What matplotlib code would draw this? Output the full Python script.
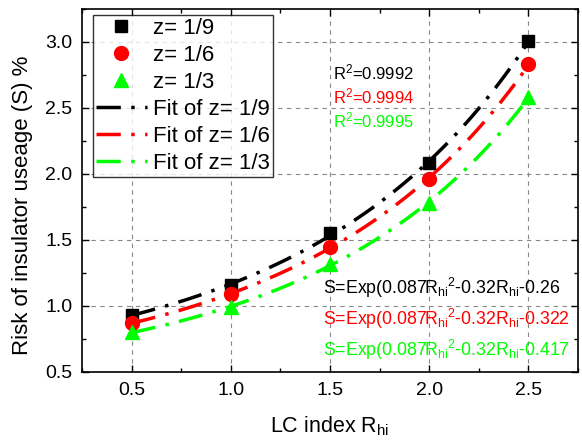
import numpy as np
import matplotlib
matplotlib.use("Agg")
import matplotlib.pyplot as plt
from matplotlib.ticker import MultipleLocator

plt.rcParams['font.family'] = ['Liberation Sans', 'DejaVu Sans']
plt.rcParams['mathtext.fontset'] = 'custom'
plt.rcParams['mathtext.rm'] = 'Liberation Sans'
plt.rcParams['mathtext.it'] = 'Liberation Sans'

x = [0.5, 1.0, 1.5, 2.0, 2.5]
s_19 = [0.93, 1.16, 1.55, 2.08, 3.01]
s_16 = [0.87, 1.09, 1.45, 1.96, 2.83]
s_13 = [0.80, 0.99, 1.32, 1.78, 2.58]
series = [("z= 1/9", s_19, "black", "s"),
          ("z= 1/6", s_16, "#FF0000", "o"),
          ("z= 1/3", s_13, "#00FF00", "^")]
r2_labels = ["0.9992", "0.9994", "0.9995"]
intercepts = ["-0.26", "-0.322", "-0.417"]

fig = plt.figure(figsize=(5.82, 4.42), dpi=100)
ax = fig.add_axes([82/582, 1-372/442, (578-82)/582, (372-9)/442])

xf = np.linspace(min(x), max(x), 100)
handles_pts = []
handles_fit = []
for label, y, c, m in series:
    coef = np.polyfit(x, np.log(y), 2)
    yf = np.exp(np.polyval(coef, xf))
    lf, = ax.plot(xf, yf, color=c, lw=2.5, dashes=(7, 3, 1, 3), label="Fit of " + label, zorder=2)
    ms = 9 if m == "s" else 10
    hp, = ax.plot(x, y, linestyle='none', marker=m, color=c, markersize=ms, label=label, zorder=3)
    handles_pts.append(hp)
    handles_fit.append(lf)

ax.set_xlim(0.25, 2.75)
ax.set_ylim(0.5, 3.25)
ax.xaxis.set_major_locator(MultipleLocator(0.5))
ax.xaxis.set_minor_locator(MultipleLocator(0.25))
ax.yaxis.set_major_locator(MultipleLocator(0.5))
ax.yaxis.set_minor_locator(MultipleLocator(0.25))
ax.tick_params(which='both', direction='in', top=True, right=True, labelsize=14)
ax.tick_params(which='major', length=5, width=1, pad=7)
ax.tick_params(which='minor', length=3, width=1)
ax.grid(True, which='major', color='#888888', linestyle=(0, (4, 4)), lw=0.8)
for sp in ax.spines.values():
    sp.set_linewidth(1.2)

ax.set_xlabel(r"LC index R$_{\rm hi}$", fontsize=15.5)
ax.xaxis.set_label_coords(0.5, -0.117)
ax.set_ylabel("Risk of insulator useage (S) %", fontsize=16)
ax.yaxis.set_label_coords(-0.099, 0.46)

leg = ax.legend(handles=handles_pts + handles_fit, loc='upper left',
                bbox_to_anchor=(0.022, 0.983), fontsize=16, frameon=True,
                fancybox=False, edgecolor='black', handlelength=2.3,
                borderpad=0.12, labelspacing=0.27, handletextpad=0.3, borderaxespad=0)
leg.get_frame().set_linewidth(1.0)

for i, (lab, y, c, m) in enumerate(series):
    fig.text(333/582, 1-(72+24*i)/442, r"R$^2$=" + r2_labels[i], color=c,
             fontsize=12, va='center', ha='left')
    fig.text(323/582, 1-(288+31*i)/442,
             r"S=Exp(0.087R$_{\rm hi}$$^2$-0.32R$_{\rm hi}$" + intercepts[i],
             color=c, fontsize=12.8, va='center', ha='left')

fig.savefig("out.png", dpi=100)
